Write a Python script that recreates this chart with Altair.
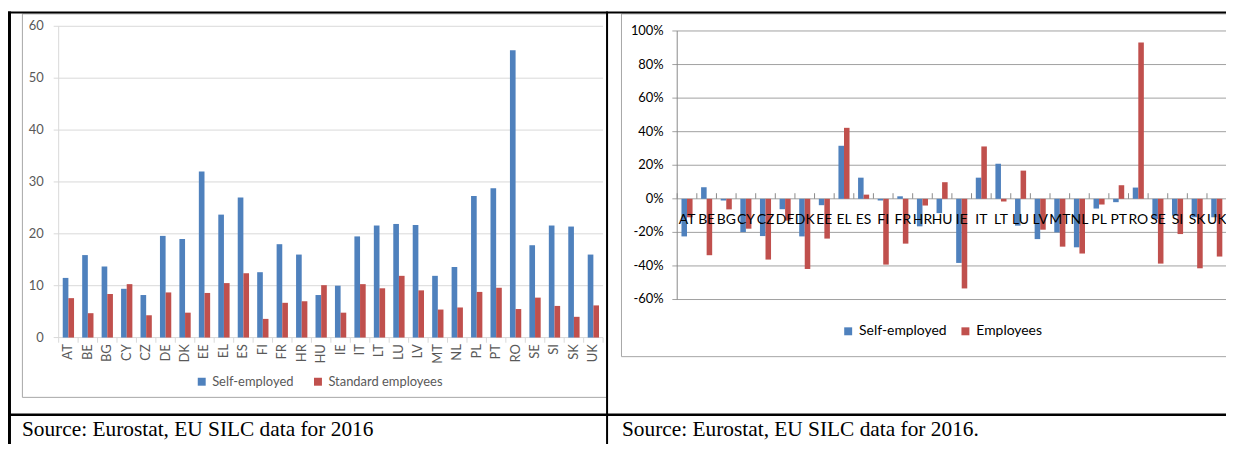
import altair as alt
import pandas as pd

countries = ["AT", "BE", "BG", "CY", "CZ", "DE", "DK", "EE", "EL", "ES", "FI", "FR", "HR", "HU",
             "IE", "IT", "LT", "LU", "LV", "MT", "NL", "PL", "PT", "RO", "SE", "SI", "SK", "UK"]

# Left panel (values)
left_series = ["Self-employed", "Standard employees"]
left_self = [11.5, 15.9, 13.7, 9.4, 8.2, 19.6, 19.0, 32.0, 23.7, 27.0, 12.6, 18.0, 16.0, 8.2,
             10.0, 19.5, 21.6, 21.9, 21.7, 11.9, 13.6, 27.3, 28.8, 55.4, 17.8, 21.6, 21.4, 16.0]
left_std = [7.6, 4.7, 8.4, 10.3, 4.3, 8.7, 4.8, 8.6, 10.5, 12.4, 3.6, 6.7, 7.0, 10.1,
            4.8, 10.3, 9.5, 11.9, 9.1, 5.4, 5.8, 8.8, 9.6, 5.5, 7.7, 6.1, 4.0, 6.2]
left_ticks = [0, 10, 20, 30, 40, 50, 60]
left_tick_labels = ["0", "10", "20", "30", "40", "50", "60"]

# Right panel (percent change)
right_series = ["Self-employed", "Employees"]
right_self = [-22.4, 6.9, -1.0, -19.8, -22.2, -6.2, -22.4, -3.8, 31.6, 12.6, -1.0, 1.5, -16.4, -8.5,
              -38.2, 12.6, 20.9, -16.0, -24.0, -20.0, -28.9, -5.8, -2.0, 6.7, -12.0, -10.0, -11.0, -11.0]
right_emp = [-11.0, -33.6, -6.3, -17.8, -36.2, -13.0, -41.8, -23.7, 42.3, 2.5, -39.2, -26.7, -4.0, 9.9,
             -53.4, 31.2, -1.6, 16.8, -18.4, -28.5, -32.6, -3.4, 8.1, 93.1, -38.6, -21.0, -41.4, -34.4]
right_ticks = [-60, -40, -20, 0, 20, 40, 60, 80, 100]
right_tick_labels = ["-60%", "-40%", "-20%", "0%", "20%", "40%", "60%", "80%", "100%"]

source_left = "Source: Eurostat, EU SILC data for 2016"
source_right = "Source: Eurostat, EU SILC data for 2016."

BLUE = "#4F81BD"
RED = "#C0504D"
FONT = "Lato"
one = pd.DataFrame({"k": [0]})

# ---------------- Left panel ----------------
left_df = pd.DataFrame({
    "country": countries * 2,
    "series": [left_series[0]] * len(countries) + [left_series[1]] * len(countries),
    "value": left_self + left_std,
})
xL_scale = alt.Scale(domain=countries, range=[51, 599], paddingInner=0, paddingOuter=0)
yL_scale = alt.Scale(domain=[0, 60], range=[330.3, 17], nice=False, zero=True)
ticksL_df = pd.DataFrame({"tick": left_ticks, "label": left_tick_labels})
cL_df = pd.DataFrame({"country": countries})

frameL = alt.Chart(one).mark_rect(fillOpacity=0, stroke="#A6A6A6", strokeWidth=1).encode(
    x=alt.value(14.5), x2=alt.value(602.5), y=alt.value(4.5), y2=alt.value(390.5))

gridL = alt.Chart(ticksL_df).mark_rule(color="#D9D9D9", strokeWidth=1).encode(
    y=alt.Y("tick:Q", scale=yL_scale, axis=None), x=alt.value(46), x2=alt.value(599))
yaxisL = alt.Chart(one).mark_rule(color="#D9D9D9", strokeWidth=1).encode(
    x=alt.value(51), y=alt.value(17), y2=alt.value(330.3))
ylabL = alt.Chart(ticksL_df).mark_text(align="right", baseline="middle", font=FONT, fontSize=13,
                                        color="#595959").encode(
    y=alt.Y("tick:Q", scale=yL_scale, axis=None), x=alt.value(36), text="label:N")
catTickL = alt.Chart(cL_df).mark_rule(color="#D9D9D9", strokeWidth=1).encode(
    x=alt.X("country:N", scale=xL_scale, axis=None, bandPosition=0),
    y=alt.value(330.3), y2=alt.value(335.5))
catTickLEnd = alt.Chart(cL_df.tail(1)).mark_rule(color="#D9D9D9", strokeWidth=1).encode(
    x=alt.X("country:N", scale=xL_scale, axis=None, bandPosition=1),
    y=alt.value(330.3), y2=alt.value(335.5))
barsL = alt.Chart(left_df).mark_bar().encode(
    x=alt.X("country:N", scale=xL_scale, axis=None),
    xOffset=alt.XOffset("series:N", scale=alt.Scale(domain=left_series, paddingInner=0, paddingOuter=0.72)),
    y=alt.Y("value:Q", scale=yL_scale, axis=None),
    color=alt.Color("series:N", scale=alt.Scale(domain=left_series, range=[BLUE, RED]),
                    legend=alt.Legend(title=None, orient="none", legendX=188.5, legendY=368,
                                      direction="horizontal", symbolType="square", symbolSize=64,
                                      symbolStrokeWidth=0, labelFont=FONT, labelFontSize=13,
                                      labelColor="#595959", labelOffset=4, columnPadding=18,
                                      padding=0)),
)
xlabL = alt.Chart(cL_df).mark_text(angle=270, align="right", baseline="middle", font=FONT,
                                    fontSize=13, color="#595959").encode(
    x=alt.X("country:N", scale=xL_scale, axis=None), y=alt.value(337), text="country:N")

left = alt.layer(frameL, gridL, yaxisL, catTickL, catTickLEnd, barsL, ylabL, xlabL)

# ---------------- Right panel ----------------
right_df = pd.DataFrame({
    "country": countries * 2,
    "series": [right_series[0]] * len(countries) + [right_series[1]] * len(countries),
    "value": right_self + right_emp,
})
xR_scale = alt.Scale(domain=countries, range=[673.6, 1226.6], paddingInner=0, paddingOuter=0)
yR_scale = alt.Scale(domain=[-60, 100], range=[292, 21.7], nice=False, zero=False)
ticksR_df = pd.DataFrame({"tick": right_ticks, "label": right_tick_labels})
cR_df = pd.DataFrame({"country": countries})

frameR = alt.Chart(one).mark_rect(fillOpacity=0, stroke="#A6A6A6", strokeWidth=1).encode(
    x=alt.value(617.5), x2=alt.value(1240), y=alt.value(4.5), y2=alt.value(349.5))
gridR = alt.Chart(ticksR_df).mark_rule(color="#A0A0A0", strokeWidth=1).encode(
    y=alt.Y("tick:Q", scale=yR_scale, axis=None), x=alt.value(668.7), x2=alt.value(1230))
yaxisR = alt.Chart(one).mark_rule(color="#8A8A8A", strokeWidth=1).encode(
    x=alt.value(673.6), y=alt.value(21.7), y2=alt.value(292))
ylabR = alt.Chart(ticksR_df).mark_text(align="right", baseline="middle", font=FONT, fontSize=13,
                                        color="#000000").encode(
    y=alt.Y("tick:Q", scale=yR_scale, axis=None), x=alt.value(660), text="label:N")
catTickR = alt.Chart(cR_df).mark_rule(color="#8A8A8A", strokeWidth=1).encode(
    x=alt.X("country:N", scale=xR_scale, axis=None, bandPosition=0),
    y=alt.value(185), y2=alt.value(190.6))
barsR = alt.Chart(right_df).mark_bar().encode(
    x=alt.X("country:N", scale=xR_scale, axis=None),
    xOffset=alt.XOffset("series:N", scale=alt.Scale(domain=right_series, paddingInner=0, paddingOuter=0.77)),
    y=alt.Y("value:Q", scale=yR_scale, axis=None),
    color=alt.Color("series:N", scale=alt.Scale(domain=right_series, range=[BLUE, RED]),
                    legend=alt.Legend(title=None, orient="none", legendX=838.7, legendY=317,
                                      direction="horizontal", symbolType="square", symbolSize=64,
                                      symbolStrokeWidth=0, labelFont=FONT, labelFontSize=14,
                                      labelColor="#000000", labelOffset=4, columnPadding=11,
                                      padding=0)),
)
xlabR = alt.Chart(cR_df).mark_text(align="center", baseline="middle", font=FONT, fontSize=14,
                                    color="#000000").encode(
    x=alt.X("country:N", scale=xR_scale, axis=None), y=alt.value(212), text="country:N")

right = alt.layer(frameR, gridR, yaxisR, catTickR, barsR, xlabR, ylabR)

# ---------------- Table borders and sources ----------------
def hline(x1, x2, y, w):
    return alt.Chart(one).mark_rule(color="#000000", strokeWidth=w).encode(
        x=alt.value(x1), x2=alt.value(x2), y=alt.value(y))

def vline(x, y1, y2, w):
    return alt.Chart(one).mark_rule(color="#000000", strokeWidth=w).encode(
        x=alt.value(x), y=alt.value(y1), y2=alt.value(y2))

borders = [
    hline(0, 1240, 3, 2),
    hline(0, 1240, 408, 2.5),
    vline(1.5, 2, 440, 3),
    vline(603, 2, 440, 2),
]
srcL = alt.Chart(one).mark_text(align="left", baseline="alphabetic", font="Liberation Serif",
                                fontSize=21.5, color="#000000").encode(
    x=alt.value(14), y=alt.value(429), text=alt.value(source_left))
srcR = alt.Chart(one).mark_text(align="left", baseline="alphabetic", font="Liberation Serif",
                                fontSize=21.5, color="#000000").encode(
    x=alt.value(618), y=alt.value(429), text=alt.value(source_right))

chart = alt.layer(left, right, *borders, srcL, srcR).resolve_scale(
    x="independent", y="independent", color="independent", xOffset="independent"
).resolve_legend(color="independent").properties(
    width=1226, height=436, padding=0, autosize=alt.AutoSizeParams(type="none")
).configure_view(stroke=None)

chart.save("out.html", embed_options={"renderer": "svg", "actions": False})
